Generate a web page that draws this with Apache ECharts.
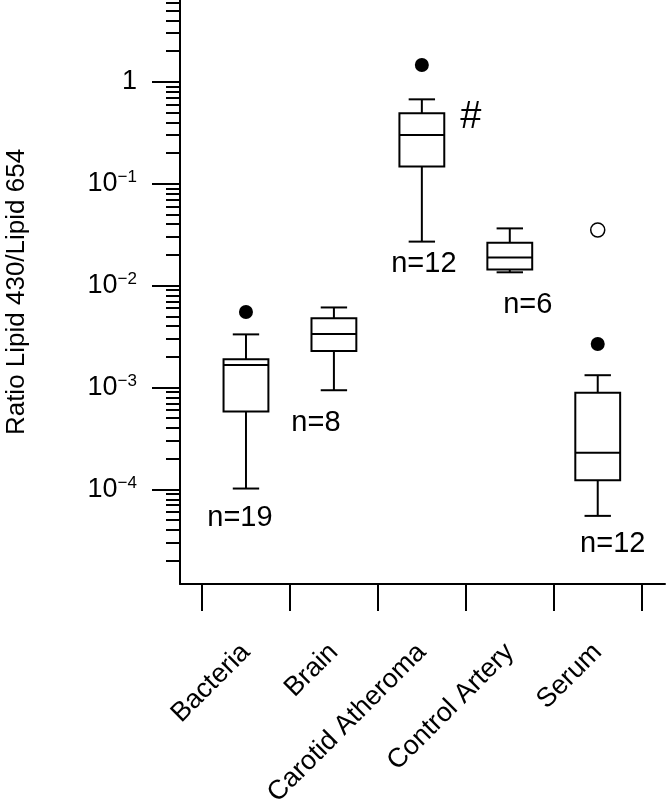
<!DOCTYPE html>
<html><head><meta charset="utf-8">
<script src="https://cdn.jsdelivr.net/npm/echarts@6/dist/echarts.min.js"></script>
<style>html,body{margin:0;padding:0;background:#fff}#c{width:667px;height:803px}</style>
</head><body><div id="c"></div>
<script>
// ---- data ----
const categories = ['Bacteria', 'Brain', 'Carotid Atheroma', 'Control Artery', 'Serum'];
const whiskerLow  = [1.02e-4, 9.4e-4, 0.027, 0.0135, 5.5e-5];
const q1          = [5.8e-4, 2.28e-3, 0.147, 0.0144, 1.23e-4];
const median      = [1.66e-3, 3.34e-3, 0.30, 0.0189, 2.29e-4];
const q3          = [1.89e-3, 4.77e-3, 0.49, 0.0263, 8.9e-4];
const whiskerHigh = [3.32e-3, 6.1e-3, 0.672, 0.0364, 1.32e-3];
const outlierFilled = [[0, 5.5e-3], [2, 1.46], [4, 2.67e-3]];
const outlierOpen   = [[4, 0.0351]];
const nLabels = ['n=19', 'n=8', 'n=12', 'n=6', 'n=12'];
const sigMarks = ['', '', '#', '', ''];
const majorTicks = [1e-4, 1e-3, 1e-2, 1e-1, 1];
const majorTickLabels = ['10{s|\u22124}', '10{s|\u22123}', '10{s|\u22122}', '10{s|\u22121}', '1'];
const minorTicks = [];
[-5, -4, -3, -2, -1, 0].forEach(function (e) {
  for (let k = 2; k <= 9; k++) minorTicks.push(parseFloat((k * Math.pow(10, e)).toPrecision(3)));
});

// ---- layout / style ----
const FONT = '"Liberation Sans", Arial, Helvetica, sans-serif';
const yMin = 1.18e-5, yMax = 6.34;
const BLACK = '#000';
// label offsets (px) relative to category centre / lower whisker
const nOffsets = [[-6, 29], [-18, 33], [2, 22], [18, 33], [15, 28]];

const chart = echarts.init(document.getElementById('c'), null, { renderer: 'canvas' });

const boxData = categories.map(function (c, i) {
  return [i, whiskerLow[i], q1[i], median[i], q3[i], whiskerHigh[i]];
});

function renderBox(params, api) {
  const i = api.value(0);
  const band = api.size([1, 0])[0];
  const bw = band * 0.51, cw = band * 0.3;
  const pWL = api.coord([i, api.value(1)]);
  const pQ1 = api.coord([i, api.value(2)]);
  const pMd = api.coord([i, api.value(3)]);
  const pQ3 = api.coord([i, api.value(4)]);
  const pWH = api.coord([i, api.value(5)]);
  const x = pMd[0];
  const ls = { stroke: BLACK, lineWidth: 2, fill: null };
  const children = [
    { type: 'line', shape: { x1: x, y1: pQ3[1], x2: x, y2: pWH[1] }, style: ls },
    { type: 'line', shape: { x1: x, y1: pQ1[1], x2: x, y2: pWL[1] }, style: ls },
    { type: 'line', shape: { x1: x - cw / 2, y1: pWH[1], x2: x + cw / 2, y2: pWH[1] }, style: ls },
    { type: 'line', shape: { x1: x - cw / 2, y1: pWL[1], x2: x + cw / 2, y2: pWL[1] }, style: ls },
    { type: 'rect', shape: { x: x - bw / 2, y: pQ3[1], width: bw, height: pQ1[1] - pQ3[1] },
      style: { stroke: BLACK, lineWidth: 2, fill: '#fff' } },
    { type: 'line', shape: { x1: x - bw / 2, y1: pMd[1], x2: x + bw / 2, y2: pMd[1] }, style: ls },
    { type: 'text', x: x + nOffsets[i][0], y: pWL[1] + nOffsets[i][1],
      style: { text: nLabels[i], fill: BLACK, fontSize: 29, fontFamily: FONT, align: 'center', verticalAlign: 'middle' } }
  ];
  if (sigMarks[i]) {
    children.push({ type: 'text', x: x + 49, y: pQ3[1] + 4,
      style: { text: sigMarks[i], fill: BLACK, fontSize: 38, fontFamily: FONT, align: 'center', verticalAlign: 'middle' } });
  }
  return { type: 'group', children: children };
}

const option = {
  animation: false,
  backgroundColor: '#fff',
  grid: [
    { left: 202, right: 25.3, top: 0, bottom: 219, outerBoundsMode: 'none', containLabel: false },
    { left: 180, right: 2, top: 0, bottom: 219, outerBoundsMode: 'none', containLabel: false }
  ],
  xAxis: [
    { gridIndex: 0, type: 'category', data: categories, boundaryGap: true,
      axisLine: { show: false },
      axisTick: { show: true, length: 27, interval: 0, lineStyle: { color: BLACK, width: 2 } },
      axisLabel: { interval: 0, rotate: 45, margin: 64, fontSize: 27, color: BLACK, fontFamily: FONT },
      splitLine: { show: false } },
    { gridIndex: 1, type: 'value', min: 0, max: 1,
      axisLine: { show: true, lineStyle: { color: BLACK, width: 2 } },
      axisTick: { show: false }, axisLabel: { show: false }, splitLine: { show: false } }
  ],
  yAxis: [
    { gridIndex: 0, type: 'log', logBase: 10, min: yMin, max: yMax, show: false },
    { gridIndex: 1, type: 'log', logBase: 10, min: yMin, max: yMax, position: 'left',
      name: 'Ratio Lipid 430/Lipid 654', nameLocation: 'middle', nameGap: 150,
      nameTextStyle: { fontSize: 26, color: BLACK, fontFamily: FONT },
      axisLine: { show: true, lineStyle: { color: BLACK, width: 2 } },
      axisTick: { show: true, length: 28, customValues: majorTicks, lineStyle: { color: BLACK, width: 2 } },
      axisLabel: { show: true, customValues: majorTicks, margin: 43,
        formatter: function (v) {
          let idx = 0, best = Infinity;
          majorTicks.forEach(function (t, j) { const d = Math.abs(Math.log10(t) - Math.log10(v)); if (d < best) { best = d; idx = j; } });
          const s = majorTickLabels[idx];
          return s.indexOf('{') >= 0 ? '{b|' + s.replace(/\{s\|/, '}{s|') : '{b|' + s + '}';
        },
        rich: {
          b: { fontSize: 27, color: BLACK, fontFamily: FONT, lineHeight: 30 },
          s: { fontSize: 17, color: BLACK, fontFamily: FONT, lineHeight: 13, verticalAlign: 'top' }
        } },
      splitLine: { show: false } },
    { gridIndex: 1, type: 'log', logBase: 10, min: yMin, max: yMax, position: 'left', offset: 0,
      axisLine: { show: false },
      axisTick: { show: true, length: 14, customValues: minorTicks, lineStyle: { color: BLACK, width: 2 } },
      axisLabel: { show: false }, splitLine: { show: false } }
  ],
  series: [
    { type: 'custom', xAxisIndex: 0, yAxisIndex: 0, data: boxData, renderItem: renderBox, clip: false, z: 2 },
    { type: 'scatter', xAxisIndex: 0, yAxisIndex: 0, data: outlierFilled, symbol: 'circle', symbolSize: 14,
      itemStyle: { color: BLACK, opacity: 1 }, z: 3 },
    { type: 'scatter', xAxisIndex: 0, yAxisIndex: 0, data: outlierOpen, symbol: 'circle', symbolSize: 14,
      itemStyle: { color: '#fff', borderColor: BLACK, borderWidth: 1.5, opacity: 1 }, z: 3 }
  ]
};
chart.setOption(option);
</script>
</body></html>
